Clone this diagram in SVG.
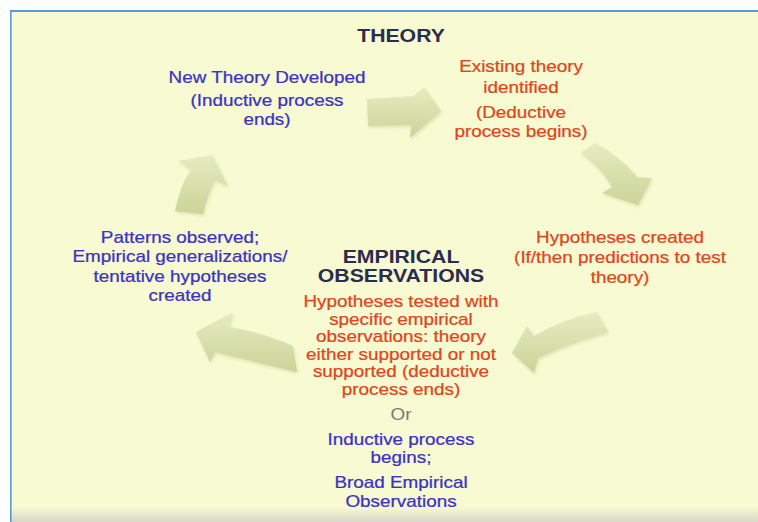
<svg xmlns="http://www.w3.org/2000/svg" width="758" height="522" viewBox="0 0 758 522">
  <defs>
    <linearGradient id="arrowFill" x1="0" y1="0" x2="0" y2="1">
      <stop offset="0" stop-color="#e6ecc1"/>
      <stop offset="1" stop-color="#cbd498"/>
    </linearGradient>
    <linearGradient id="bottomFade" x1="0" y1="0" x2="0" y2="1">
      <stop offset="0" stop-color="#f8fad2"/>
      <stop offset="1" stop-color="#d6d7ca"/>
    </linearGradient>
    <filter id="soft" x="-20%" y="-20%" width="140%" height="140%">
      <feGaussianBlur in="SourceAlpha" stdDeviation="1.6"/>
      <feOffset dx="1" dy="2" result="sh"/>
      <feFlood flood-color="#9aa060" flood-opacity="0.25"/>
      <feComposite in2="sh" operator="in" result="shadow"/>
      <feGaussianBlur in="SourceGraphic" stdDeviation="0.6" result="body"/>
      <feMerge>
        <feMergeNode in="shadow"/>
        <feMergeNode in="body"/>
      </feMerge>
    </filter>
  </defs>
  <style>
    text { font-family: "Liberation Sans", Arial, sans-serif; text-anchor: middle; font-size: 16px; stroke-width: 0.25px; }
    .title { font-weight: bold; font-size: 18px; fill: #2c2c4e; }
    .ind { fill: #3a33c4; stroke: #3a33c4; }
    .ded { fill: #e0461c; stroke: #e0461c; }
    .or { fill: #7a7a7a; }
    .arrow { fill: url(#arrowFill); filter: url(#soft); }
  </style>

  <!-- page and frame -->
  <rect x="0" y="0" width="758" height="522" fill="#ffffff"/>
  <rect x="11" y="12" width="747" height="510" fill="#f8fad2"/>
  <rect x="11" y="507" width="747" height="15" fill="url(#bottomFade)"/>
  <rect x="10" y="10" width="748" height="2" fill="#5b9bd5"/>
  <rect x="10" y="10" width="1.6" height="512" fill="#5b9bd5"/>

  <!-- cycle arrows -->
  <g id="connectors">
    <path class="arrow" d="M175,211 Q180,186 191,169 L178,161 L212,155 L228,186 L215,180 Q207,196 203,214 Z"/>
    <path class="arrow" d="M367,99 L414,96 L424,87 L441,111 L410,138 L411,125 L368,126 Z"/>
    <path class="arrow" d="M581,153 L595,143 Q620,156 637,177 L652,178 L638,205 L602,193 L612,187 Q600,166 581,153 Z"/>
    <path class="arrow" d="M597,312 L608,332 Q573,341 538,358 L534,373 L512,353 L527,326 L534,336 Q565,318 597,312 Z"/>
    <path class="arrow" d="M293,346 L297,372 Q255,362 215,352 L210,362 L196,332 L233,312 L229,327 Q262,332 293,346 Z"/>
  </g>

  <g id="theory" transform="translate(401 0) scale(1.18 1)">
    <text class="title" x="0" y="42">THEORY</text>
  </g>

  <g id="new-theory" transform="translate(267 0) scale(1.18 1)">
    <text class="ind" x="0" y="83">New Theory Developed</text>
    <text class="ind" x="0" y="106">(Inductive process</text>
    <text class="ind" x="0" y="125">ends)</text>
  </g>

  <g id="existing-theory" transform="translate(521 0) scale(1.18 1)">
    <text class="ded" x="0" y="72">Existing theory</text>
    <text class="ded" x="0" y="93">identified</text>
    <text class="ded" x="0" y="118">(Deductive</text>
    <text class="ded" x="0" y="137">process begins)</text>
  </g>

  <g id="hypotheses-created" transform="translate(620 0) scale(1.18 1)">
    <text class="ded" x="0" y="243">Hypotheses created</text>
    <text class="ded" x="0" y="263">(If/then predictions to test</text>
    <text class="ded" x="0" y="283">theory)</text>
  </g>

  <g id="empirical-observations" transform="translate(401 0) scale(1.18 1)">
    <text class="title" x="0" y="263">EMPIRICAL</text>
    <text class="title" x="0" y="282">OBSERVATIONS</text>
    <text class="ded" x="0" y="307">Hypotheses tested with</text>
    <text class="ded" x="0" y="324.6">specific empirical</text>
    <text class="ded" x="0" y="342.2">observations: theory</text>
    <text class="ded" x="0" y="359.8">either supported or not</text>
    <text class="ded" x="0" y="377.4">supported (deductive</text>
    <text class="ded" x="0" y="395">process ends)</text>
    <text class="or" x="0" y="420">Or</text>
    <text class="ind" x="0" y="445">Inductive process</text>
    <text class="ind" x="0" y="463">begins;</text>
    <text class="ind" x="0" y="488">Broad Empirical</text>
    <text class="ind" x="0" y="507">Observations</text>
  </g>

  <g id="patterns-observed" transform="translate(180 0) scale(1.18 1)">
    <text class="ind" x="0" y="243">Patterns observed;</text>
    <text class="ind" x="0" y="262.5">Empirical generalizations/</text>
    <text class="ind" x="0" y="282">tentative hypotheses</text>
    <text class="ind" x="0" y="301.5">created</text>
  </g>
</svg>
